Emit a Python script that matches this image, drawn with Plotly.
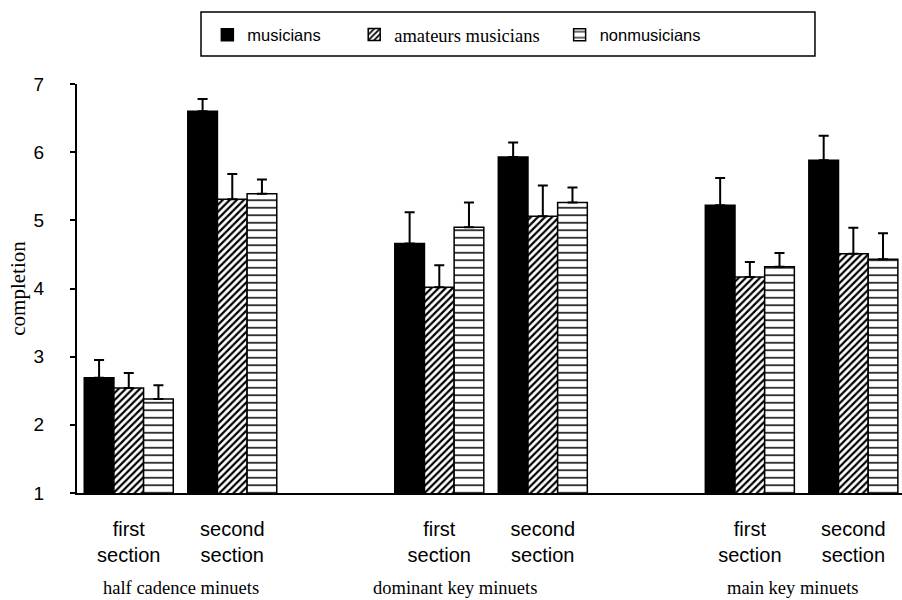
import plotly.graph_objects as go

# Categories
minuet_types = ["half cadence minuets", "dominant key minuets", "main key minuets"]
section_labels = ["first<br>section", "second<br>section"]
y_ticks = [1, 2, 3, 4, 5, 6, 7]

# Mean completion ratings (first/second section for each minuet type)
musicians = [2.69, 6.60, 4.66, 5.93, 5.22, 5.88]
musicians_err = [0.26, 0.18, 0.46, 0.21, 0.40, 0.36]
amateurs = [2.54, 5.31, 4.02, 5.06, 4.17, 4.51]
amateurs_err = [0.22, 0.37, 0.32, 0.45, 0.22, 0.38]
nonmusicians = [2.38, 5.39, 4.90, 5.26, 4.32, 4.43]
nonmusicians_err = [0.20, 0.21, 0.36, 0.22, 0.20, 0.38]

# Each minuet type takes three slots: two sections and an empty spacer
x_pos = [3 * g + s for g in range(len(minuet_types)) for s in range(len(section_labels))]
n_slots = 3 * len(minuet_types) - 1
boundaries = [i - 0.5 for i in range(n_slots + 1)]

SANS = "Liberation Sans, Arial, sans-serif"
SERIF = "Liberation Serif, Times New Roman, serif"


def err(arr):
    return dict(type="data", array=arr, arrayminus=[0] * len(arr), symmetric=False,
                color="black", thickness=2, width=5)


fig = go.Figure()
fig.add_trace(go.Bar(
    x=x_pos, y=musicians, name="musicians", legend="legend",
    marker=dict(color="black", line=dict(color="black", width=1.5)),
    error_y=err(musicians_err),
))
fig.add_trace(go.Bar(
    x=x_pos, y=amateurs, name="amateurs musicians", legend="legend2",
    marker=dict(color="white", line=dict(color="black", width=1.5),
                pattern=dict(shape="/", fgcolor="black", bgcolor="white",
                             size=5, solidity=0.45, fillmode="replace")),
    error_y=err(amateurs_err),
))
fig.add_trace(go.Bar(
    x=x_pos, y=nonmusicians, name="nonmusicians", legend="legend3",
    marker=dict(color="white", line=dict(color="black", width=1.5),
                pattern=dict(shape="-", fgcolor="black", bgcolor="white",
                             size=7.5, solidity=0.2, fillmode="replace")),
    error_y=err(nonmusicians_err),
))

# Group captions under the section labels
group_x = [0.5, 3.15, 6.42]
annotations = [
    dict(text=name, x=gx, xref="x", y=-0.232, yref="paper", showarrow=False,
         xanchor="center", yanchor="middle", font=dict(family=SERIF, size=18.5, color="black"))
    for name, gx in zip(minuet_types, group_x)
]

x_range = [-0.5, 7.47]
legend_common = dict(orientation="h", yanchor="middle", y=1.12, xanchor="left",
                     bgcolor="rgba(0,0,0,0)", borderwidth=0, itemclick=False)

fig.update_layout(
    width=902, height=600,
    margin=dict(l=77, r=0, t=84, b=107),
    plot_bgcolor="white", paper_bgcolor="white",
    barmode="group", bargap=0.14, bargroupgap=0,
    showlegend=True,
    legend=dict(x=0.158, font=dict(family=SANS, size=16.5, color="black"), **legend_common),
    legend2=dict(x=0.336, font=dict(family=SERIF, size=18.5, color="black"), **legend_common),
    legend3=dict(x=0.585, font=dict(family=SANS, size=16.5, color="black"), **legend_common),
    annotations=annotations,
    shapes=[dict(type="rect", xref="paper", yref="paper",
                 x0=0.1503, x1=0.8945, y0=1.0685, y1=1.176,
                 line=dict(color="black", width=1.5), fillcolor="rgba(0,0,0,0)")],
    xaxis=dict(
        range=x_range, showline=True, linewidth=2, linecolor="black",
        showgrid=False, zeroline=False,
        tickmode="array", tickvals=x_pos,
        ticktext=section_labels * len(minuet_types),
        ticks="", ticklabelstandoff=17,
        tickfont=dict(family=SANS, size=20, color="black"),
    ),
    xaxis2=dict(
        overlaying="x", anchor="y", side="bottom", range=x_range,
        showline=False, showgrid=False, zeroline=False,
        tickmode="array", tickvals=boundaries, ticks="outside", ticklen=7,
        tickwidth=2, tickcolor="black", showticklabels=False,
    ),
    xaxis3=dict(
        overlaying="x", anchor="y", side="bottom", range=x_range,
        showline=False, showgrid=False, zeroline=False,
        tickmode="array", tickvals=boundaries, ticks="inside", ticklen=4,
        tickwidth=2, tickcolor="black", showticklabels=False,
    ),
    yaxis=dict(
        range=[1, 7], showline=True, linewidth=2, linecolor="black",
        showgrid=False, zeroline=False,
        tickmode="array", tickvals=y_ticks, ticks="outside", ticklen=5,
        tickwidth=2, tickcolor="black", ticklabelstandoff=22,
        tickfont=dict(family=SANS, size=19, color="black"),
        title=dict(text="completion", standoff=2,
                   font=dict(family=SERIF, size=21, color="black")),
    ),
    yaxis2=dict(
        overlaying="y", anchor="x", side="left", range=[1, 7],
        showline=False, showgrid=False, zeroline=False,
        tickmode="array", tickvals=y_ticks, ticks="inside", ticklen=8,
        tickwidth=2, tickcolor="black", showticklabels=False,
    ),
)

fig.write_html("out.html")
